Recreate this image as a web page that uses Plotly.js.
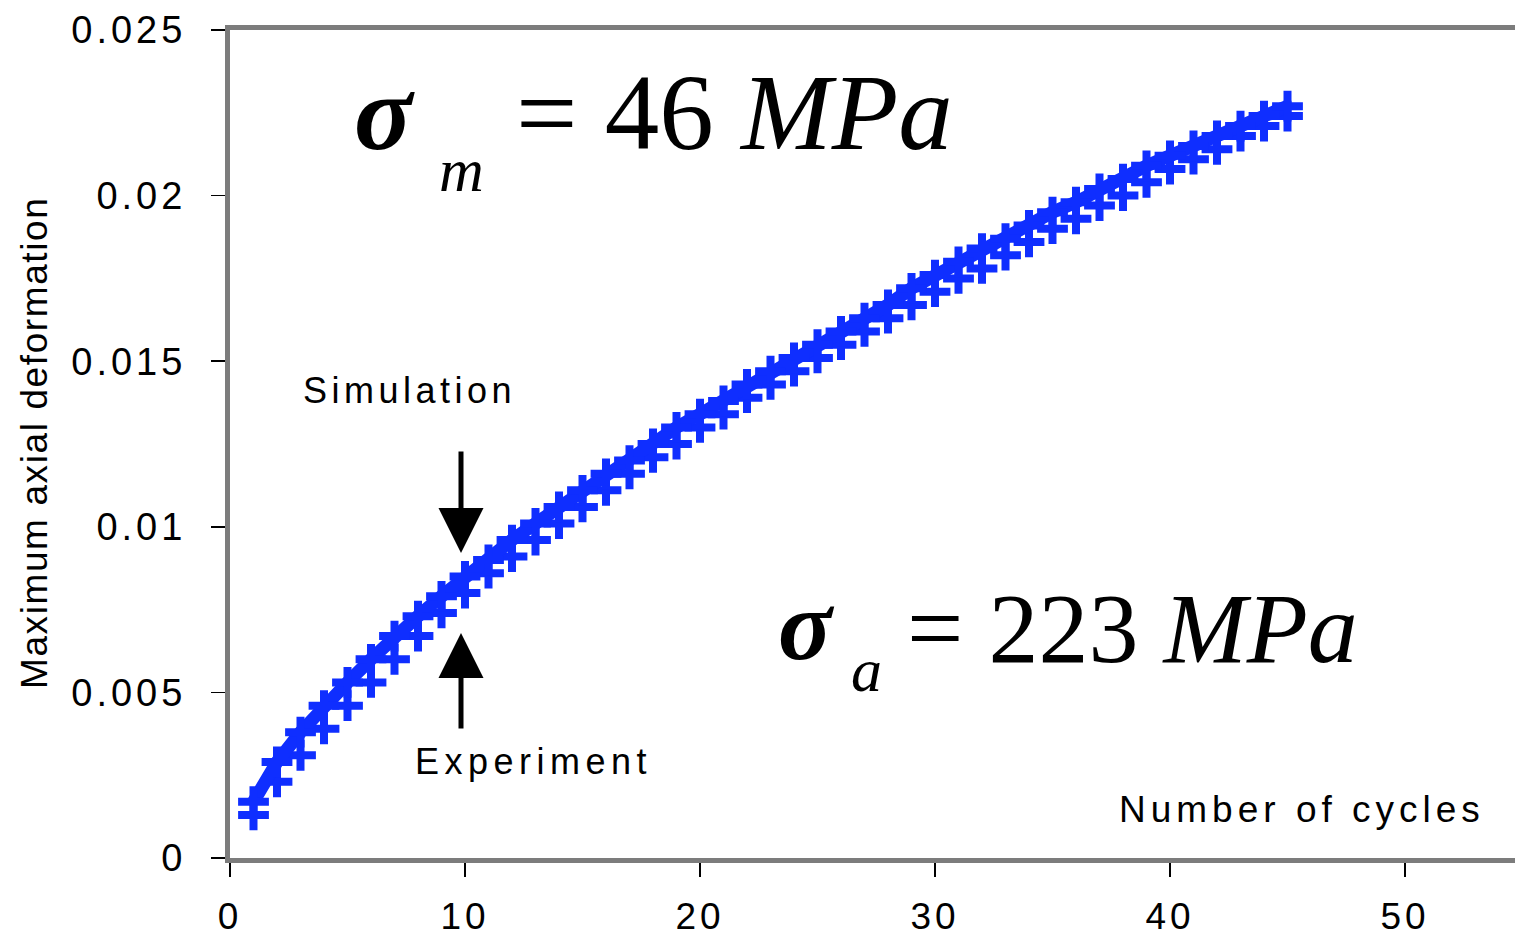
<!DOCTYPE html>
<html>
<head>
<meta charset="utf-8">
<script src="https://cdn.plot.ly/plotly-3.0.1.min.js"></script>
<style>
  html, body { margin: 0; padding: 0; background: #fff; }
  #chart { width: 1515px; height: 939px; }
  .xtick text, .ytick text { letter-spacing: 4px; }
</style>
</head>
<body>
<div id="chart"></div>
<script>
// ---- data ----
const cycles = [1,2,3,4,5,6,7,8,9,10,11,12,13,14,15,16,17,18,19,20,21,22,23,24,25,26,27,28,29,30,31,32,33,34,35,36,37,38,39,40,41,42,43,44,45];
const simulation = [0.0017,0.0029,0.0038,0.0046,0.0053,0.0060,0.0067,0.0073,0.0079,0.0085,
                    0.0090,0.0096,0.0101,0.0106,0.0111,0.0116,0.0120,0.0125,0.0130,0.0134,
                    0.0138,0.0143,0.0147,0.0151,0.0155,0.0159,0.0163,0.0167,0.0172,0.0176,
                    0.0180,0.0184,0.0187,0.0191,0.0195,0.0198,0.0202,0.0205,0.0209,0.0212,
                    0.0215,0.0218,0.0221,0.0224,0.0227];
const experiment = [0.0013,0.0023,0.0031,0.0039,0.0046,0.0053,0.0060,0.0067,0.0074,0.0080,
                    0.0086,0.0091,0.0096,0.0101,0.0106,0.0111,0.0116,0.0121,0.0125,0.0130,
                    0.0134,0.0139,0.0143,0.0147,0.0151,0.0155,0.0159,0.0163,0.0167,0.0171,
                    0.0175,0.0178,0.0182,0.0186,0.0190,0.0193,0.0197,0.0200,0.0204,0.0208,
                    0.0211,0.0214,0.0218,0.0221,0.0224];
const xTicks = [0,10,20,30,40,50];
const yTicks = [0,0.005,0.01,0.015,0.02,0.025];
const yTickLabels = ['0','0.005','0.01','0.015','0.02','0.025'];

const BLUE = '#0f2eff';
const GRAY = '#7c7c7c';
const SANS = 'Liberation Sans, Arial, sans-serif';
const SERIF = 'Liberation Serif, Times New Roman, serif';

const traces = [
  {
    x: cycles, y: experiment, type: 'scatter', mode: 'markers', name: 'Experiment',
    marker: { symbol: 'cross-thin', size: 22, color: BLUE, line: { color: BLUE, width: 8 } }
  },
  {
    x: cycles, y: simulation, type: 'scatter', mode: 'lines+markers', name: 'Simulation',
    line: { color: BLUE, width: 13 },
    marker: { symbol: 'cross-thin', size: 22, color: BLUE, line: { color: BLUE, width: 8 } }
  }
];

// helper: pixel position -> data coordinates (plot box: x 230..1515, y 30..858)
function px2x(p) { return (p - 230) / 23.5; }
function px2y(p) { return (858 - p) / 33120; }

const annotations = [
  // sigma_m
  { x: px2x(384), y: px2y(112), xref: 'x', yref: 'y', text: '<b><i>σ</i></b>', showarrow: false,
    font: { family: SERIF, size: 108, color: '#000' }, xanchor: 'center', yanchor: 'middle' },
  { x: px2x(461), y: px2y(170), xref: 'x', yref: 'y', text: '<i>m</i>', showarrow: false,
    font: { family: SERIF, size: 62, color: '#000' }, xanchor: 'center', yanchor: 'middle' },
  { x: px2x(514), y: px2y(112), xref: 'x', yref: 'y', text: '= 46 <i>MPa</i>', showarrow: false,
    font: { family: SERIF, size: 109, color: '#000' }, xanchor: 'left', yanchor: 'middle' },
  // sigma_a
  { x: px2x(806), y: px2y(625), xref: 'x', yref: 'y', text: '<b><i>σ</i></b>', showarrow: false,
    font: { family: SERIF, size: 100, color: '#000' }, xanchor: 'center', yanchor: 'middle' },
  { x: px2x(866), y: px2y(670), xref: 'x', yref: 'y', text: '<i>a</i>', showarrow: false,
    font: { family: SERIF, size: 62, color: '#000' }, xanchor: 'center', yanchor: 'middle' },
  { x: px2x(905), y: px2y(628), xref: 'x', yref: 'y', text: '= 223 <i>MPa</i>', showarrow: false,
    font: { family: SERIF, size: 100, color: '#000' }, xanchor: 'left', yanchor: 'middle' },
  // labels
  { x: px2x(409), y: px2y(390), xref: 'x', yref: 'y',
    text: '<span style="letter-spacing:4.5px">Simulation</span>', showarrow: false,
    font: { family: SANS, size: 36, color: '#000' }, xanchor: 'center', yanchor: 'middle' },
  { x: px2x(533), y: px2y(761), xref: 'x', yref: 'y',
    text: '<span style="letter-spacing:5.5px">Experiment</span>', showarrow: false,
    font: { family: SANS, size: 36, color: '#000' }, xanchor: 'center', yanchor: 'middle' },
  { x: px2x(1302), y: px2y(809), xref: 'x', yref: 'y',
    text: '<span style="letter-spacing:5px">Number of cycles</span>', showarrow: false,
    font: { family: SANS, size: 37, color: '#000' }, xanchor: 'center', yanchor: 'middle' },
  // y axis title
  { x: -196 / 1285, y: (858 - 443) / 828, xref: 'paper', yref: 'paper',
    text: '<span style="letter-spacing:1.6px">Maximum axial deformation</span>', showarrow: false, textangle: -90,
    font: { family: SANS, size: 37, color: '#000' }, xanchor: 'center', yanchor: 'middle' },
  // arrows
  { x: px2x(461), y: px2y(553), xref: 'x', yref: 'y', ax: 0, ay: -103, text: '', showarrow: true,
    arrowhead: 2, arrowsize: 1.8, arrowwidth: 5, arrowcolor: '#000' },
  { x: px2x(461), y: px2y(633), xref: 'x', yref: 'y', ax: 0, ay: 97, text: '', showarrow: true,
    arrowhead: 2, arrowsize: 1.8, arrowwidth: 5, arrowcolor: '#000' }
];

const layout = {
  width: 1515, height: 939,
  margin: { l: 230, r: 0, t: 30, b: 81, pad: 0 },
  paper_bgcolor: '#fff', plot_bgcolor: '#fff',
  showlegend: false,
  font: { family: SANS, color: '#000' },
  xaxis: {
    range: [0, 1285 / 23.5], tickvals: xTicks, ticktext: xTicks.map(String),
    showgrid: false, zeroline: false,
    showline: true, linecolor: GRAY, linewidth: 5, mirror: true,
    ticks: 'outside', ticklen: 14, tickwidth: 1.5, tickcolor: '#000',
    tickfont: { family: SANS, size: 37, color: '#000' }, ticklabelstandoff: 8
  },
  yaxis: {
    range: [0, 0.025], tickvals: yTicks, ticktext: yTickLabels,
    showgrid: false, zeroline: false,
    showline: true, linecolor: GRAY, linewidth: 5, mirror: false,
    ticks: 'outside', ticklen: 14, tickwidth: 1.5, tickcolor: '#000',
    tickfont: { family: SANS, size: 38, color: '#000' }, ticklabelstandoff: 17
  },
  annotations: annotations
};

Plotly.newPlot('chart', traces, layout, { displayModeBar: false, staticPlot: true });
</script>
</body>
</html>
